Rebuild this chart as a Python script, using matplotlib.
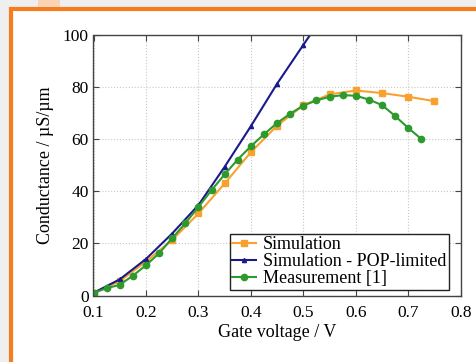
import matplotlib
matplotlib.use('agg')
import matplotlib.pyplot as plt
from matplotlib.patches import Rectangle

# data
sim_v = [0.1, 0.15, 0.2, 0.25, 0.3, 0.35, 0.4, 0.45, 0.5, 0.55, 0.6, 0.65, 0.7, 0.75]
sim_g = [1.0, 5.5, 13.0, 21.3, 31.5, 43.0, 55.0, 65.2, 73.0, 77.2, 78.7, 77.7, 76.3, 74.6]

pop_v = [0.1, 0.15, 0.2, 0.25, 0.3, 0.35, 0.4, 0.45, 0.5, 0.55]
pop_g = [1.0, 6.2, 14.0, 23.8, 34.7, 49.4, 65.0, 81.3, 96.2, 111.0]

meas_v = [0.1, 0.125, 0.15, 0.175, 0.2, 0.225, 0.25, 0.275, 0.3, 0.325, 0.35, 0.375,
          0.4, 0.425, 0.45, 0.475, 0.5, 0.525, 0.55, 0.575, 0.6, 0.625, 0.65, 0.675,
          0.7, 0.725]
meas_g = [1.0, 2.8, 4.1, 7.6, 11.6, 16.2, 22.0, 27.7, 34.0, 40.4, 46.5, 52.2,
          57.3, 61.9, 66.2, 69.8, 72.9, 74.9, 76.3, 76.9, 76.7, 75.2, 73.1, 68.9,
          64.3, 60.1]

plt.rcParams['font.family'] = ['Liberation Serif', 'DejaVu Serif']
plt.rcParams['font.size'] = 12

fig = plt.figure(figsize=(4.77, 3.62), dpi=100, facecolor='#efefef')
W, H = 477.0, 362.0

# slide frame behind the plot
fig.patches.append(Rectangle((11 / W, -0.1), 1.2, 1 - 9 / H + 0.1, transform=fig.transFigure,
                             facecolor='white', edgecolor='#f57c1f', linewidth=3.0, zorder=-10))
fig.patches.append(Rectangle((38 / W, 1 - 7 / H), 22 / W, 7 / H, transform=fig.transFigure,
                             facecolor='#f8d3b4', edgecolor='none', zorder=-10))

ax_l, ax_r, ax_t, ax_b = 93.5, 460.7, 35.0, 295.5
ax = fig.add_axes([ax_l / W, 1 - ax_b / H, (ax_r - ax_l) / W, (ax_b - ax_t) / H])
ax.set_facecolor('white')

ax.plot(sim_v, sim_g, color='#f9a12e', marker='s', markersize=4.5, linewidth=1.5,
        label='Simulation')
ax.plot(pop_v, pop_g, color='#1a1a8c', marker='^', markersize=3, linewidth=1.5,
        label='Simulation - POP-limited')
ax.plot(meas_v, meas_g, color='#2e9a2e', marker='o', markersize=4.5, linewidth=1.5,
        label='Measurement [1]')

ax.set_xlim(0.1, 0.8)
ax.set_ylim(0, 100)
ax.set_xticks([0.1, 0.2, 0.3, 0.4, 0.5, 0.6, 0.7, 0.8])
ax.set_yticks([0, 20, 40, 60, 80, 100])
ax.grid(True, linestyle=':', color='#c8c8c8', linewidth=0.8)
ax.tick_params(direction='in', top=True, right=True, length=4, color='#444444',
               labelsize=12.5)
ax.tick_params(axis='x', pad=7)
for s in ax.spines.values():
    s.set_color('#444444')
    s.set_linewidth(1.0)

ax.set_xlabel('Gate voltage / V', fontsize=13, labelpad=2)
ax.set_ylabel('Conductance / µS/µm', fontsize=13, labelpad=6)

# legend box: right edge ~449 px, bottom ~290 px
anchor = ((449 - ax_l) / (ax_r - ax_l), (ax_b - 290) / (ax_b - ax_t))
leg = ax.legend(loc='lower right', bbox_to_anchor=anchor, fontsize=13, fancybox=False,
                framealpha=1, edgecolor='#222222', handlelength=1.3, handletextpad=0.4,
                borderpad=0.15, labelspacing=0.0, borderaxespad=0.0)
leg.get_frame().set_linewidth(1.0)

plt.savefig('out.png', dpi=100, facecolor=fig.get_facecolor())
plt.close()
